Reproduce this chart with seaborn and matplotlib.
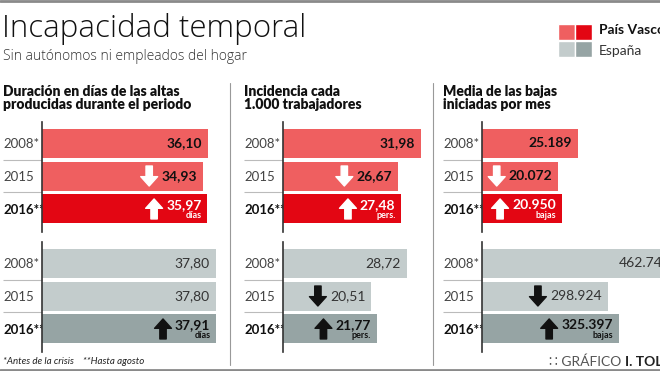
import matplotlib
matplotlib.use("Agg")
import matplotlib.pyplot as plt
import seaborn as sns
import pandas as pd

# datos
years = ["2008*", "2015", "2016**"]
duracion_pv = [36.10, 34.93, 35.97]
duracion_es = [37.80, 37.80, 37.91]
incidencia_pv = [31.98, 26.67, 27.48]
incidencia_es = [28.72, 20.51, 21.77]
bajas_pv = [25189, 20072, 20950]
bajas_es = [462745, 298924, 325397]
headers = ["Duración en días de las altas\nproducidas durante el periodo",
           "Incidencia cada\n1.000 trabajadores",
           "Media de las bajas\niniciadas por mes"]
units = ["días", "pers.", "bajas"]

# colores
RED_L, RED_D = "#EF5F60", "#E30613"
GRAY_L, GRAY_D = "#C3CCCC", "#96A4A4"

sns.set_theme(style="white")
plt.rcParams["font.family"] = ["Lato", "DejaVu Sans"]

W, H = 660, 371
fig = plt.figure(figsize=(W / 100, H / 100), dpi=100)
fig.patch.set_facecolor("white")


def rect(left, top, width, height):
    return [left / W, 1 - (top + height) / H, width / W, height / H]


def fmt_dec(v):
    return f"{v:.2f}".replace(".", ",")


def fmt_miles(v):
    return f"{v:,.0f}".replace(",", ".")


# (datos, formato, eje x en px, ancho px, px por unidad rojo, px por unidad gris)
panels = [
    (duracion_pv, duracion_es, fmt_dec, 42, 185, 4.6, 4.6),
    (incidencia_pv, incidencia_es, fmt_dec, 283, 147, 4.31, 4.31),
    (bajas_pv, bajas_es, fmt_miles, 482, 178, 0.00381, 0.000420),
]
group_tops = [122, 242]
GH = 110
PAD = -6
arrows = []

for p, (pv, es, fmt, x0, wpx, s_pv, s_es) in enumerate(panels):
    fig.text((x0 - 39) / W, 1 - 85 / H, headers[p], ha="left", va="top",
             fontsize=10, fontweight="heavy", color="#111111", linespacing=1.0)
    for g, (vals, scale, cl, cd) in enumerate([(pv, s_pv, RED_L, RED_D),
                                               (es, s_es, GRAY_L, GRAY_D)]):
        ax = fig.add_axes(rect(x0, group_tops[g], wpx, GH))
        df = pd.DataFrame({"year": years, "value": vals})
        sns.barplot(data=df, x="value", y="year", hue="year", orient="h",
                    palette=[cl, cl, cd], width=0.88, legend=False, ax=ax,
                    saturation=1, edgecolor="none")
        ax.set_xlim(0, wpx / scale)
        ax.set_ylim(2.7, -0.64)
        ax.set_xlabel("")
        ax.set_ylabel("")
        ax.set_xticks([])
        ax.set_facecolor("none")
        for side in ["top", "right", "bottom"]:
            ax.spines[side].set_visible(False)
        ax.spines["left"].set_color("#333333")
        ax.spines["left"].set_linewidth(1.2)
        ax.tick_params(axis="y", length=0, pad=28)
        ax.set_yticks(range(3))
        ax.set_yticklabels(years)
        for k, lbl in enumerate(ax.get_yticklabels()):
            lbl.set_ha("left")
            lbl.set_fontsize(9.5)
            if k == 2:
                lbl.set_fontweight("bold")
                lbl.set_color("#111111")
            else:
                lbl.set_fontweight("normal")
                lbl.set_color("#444444")
        ax.hlines([0.5, 1.5], -39 / scale, 0, color="#BBBBBB", lw=0.8, clip_on=False)

        for i, v in enumerate(vals):
            if i < 2:
                color = "#111111" if g == 0 else "#333333"
                weight = "bold" if g == 0 else "normal"
                t = ax.annotate(fmt(v), xy=(v, i), xytext=(PAD, 0), textcoords="offset pixels",
                                ha="right", va="center", fontsize=10, fontweight=weight,
                                color=color, annotation_clip=False)
            else:
                color = "white" if g == 0 else "#111111"
                t = ax.annotate(fmt(v), xy=(v, i), xytext=(PAD, 4), textcoords="offset pixels",
                                ha="right", va="center", fontsize=10, fontweight="bold",
                                color=color, annotation_clip=False)
                ax.annotate(units[p], xy=(v, i), xytext=(PAD, -7), textcoords="offset pixels",
                            ha="right", va="center", fontsize=6.5, fontweight="bold",
                            color=color, annotation_clip=False)
            if i > 0 and v != vals[i - 1]:
                up = v > vals[i - 1]
                acol = "white" if g == 0 else "#111111"
                arrows.append((ax, t, i, up, acol))

fig.canvas.draw()
renderer = fig.canvas.get_renderer()

# flechas de tendencia a la izquierda de cada valor
for ax, t, i, up, acol in arrows:
    bb = t.get_window_extent(renderer=renderer)
    yc = ax.transData.transform((0, i))[1]
    xc = bb.x0 - 12
    y_a, y_b = (yc - 10, yc + 10) if up else (yc + 10, yc - 10)
    fig.patches.append(matplotlib.patches.FancyArrowPatch(
        (xc, y_a), (xc, y_b), transform=None,
        arrowstyle="simple,head_length=0.5,head_width=0.9,tail_width=0.34",
        mutation_scale=13.5, color=acol, shrinkA=0, shrinkB=0))

# titulo y subtitulo
fig.text(2 / W, 1 - 37 / H, "Incapacidad temporal", fontsize=22.5, fontweight="light",
         color="#111111", va="baseline", ha="left", family=["Open Sans", "Lato"])
fig.text(3 / W, 1 - 60 / H, "Sin autónomos ni empleados del hogar", fontsize=10,
         fontweight="light", color="#333333", va="baseline", ha="left",
         family=["Open Sans", "Lato"])

# leyenda
lax = fig.add_axes(rect(558, 23, 34, 35))
lax.set_xlim(0, 2)
lax.set_ylim(1.5, -0.5)
lax.barh([0, 0, 1, 1], [1, 1, 1, 1], left=[0, 1, 0, 1], height=0.93,
         color=[RED_L, RED_D, GRAY_L, GRAY_D])
lax.axis("off")
fig.text(599 / W, 1 - 30 / H, "País Vasco", fontsize=10, fontweight="bold",
         color="#111111", va="center", ha="left")
fig.text(599 / W, 1 - 51 / H, "España", fontsize=10, color="#333333",
         va="center", ha="left")

# separadores
for xv in [230, 433]:
    fig.add_artist(plt.Line2D([xv / W, xv / W], [1 - 83 / H, 1 - 365 / H],
                              color="#999999", lw=0.8))
fig.add_artist(plt.Line2D([0, 1], [1 - 1 / H, 1 - 1 / H], color="#8A8A8A", lw=2))
fig.add_artist(plt.Line2D([0, 1], [1 - 369.5 / H, 1 - 369.5 / H], color="#8A8A8A", lw=2))

# pie
fig.text(3 / W, 1 - 362 / H, "*Antes de la crisis    **Hasta agosto", fontsize=7,
         style="italic", color="#222222", va="center", ha="left")
g1 = fig.text(549 / W, 1 - 362 / H, "∷ GRÁFICO", fontsize=10, color="#555555",
              va="center", ha="left", family=["Lato", "DejaVu Sans"])
gx = g1.get_window_extent(renderer=renderer).x1
fig.text((gx + 4) / W, 1 - 362 / H, "I. TOLIVAR", fontsize=10, fontweight="bold",
         color="#222222", va="center", ha="left")

fig.savefig("out.png", dpi=100, facecolor="white")
